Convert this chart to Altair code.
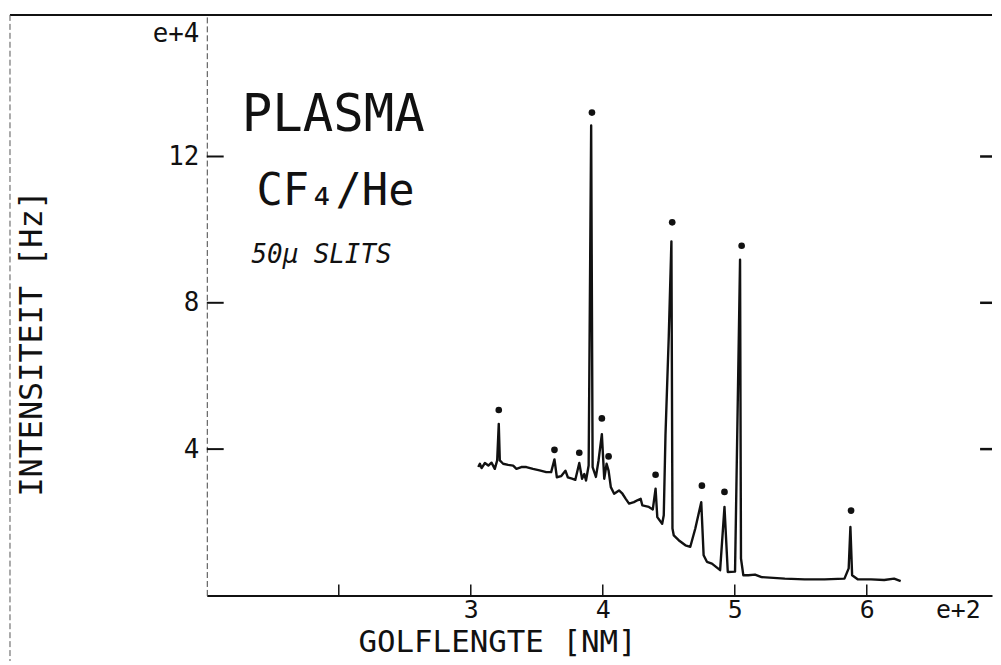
import altair as alt
import pandas as pd

# ---- data (wavelength in e+2 nm, intensity in e+4 Hz) ----
wavelength = [3.057, 3.069, 3.082, 3.107, 3.133, 3.157, 3.182, 3.200, 3.212, 3.220,
              3.245, 3.283, 3.321, 3.346, 3.383, 3.421, 3.471, 3.521, 3.572, 3.609,
              3.634, 3.652, 3.684, 3.717, 3.735, 3.767, 3.792, 3.822, 3.843, 3.860,
              3.873, 3.893, 3.912, 3.923, 3.948, 3.968, 3.993, 4.011, 4.029, 4.044,
              4.061, 4.086, 4.123, 4.149, 4.174, 4.199, 4.236, 4.262, 4.287, 4.300,
              4.349, 4.379, 4.400, 4.413, 4.450, 4.462, 4.475, 4.500, 4.520, 4.528,
              4.538, 4.575, 4.626, 4.663, 4.701, 4.746, 4.764, 4.789, 4.827, 4.889,
              4.922, 4.947, 5.002, 5.040, 5.047, 5.065, 5.102, 5.153, 5.203, 5.379,
              5.529, 5.680, 5.831, 5.863, 5.876, 5.889, 5.931, 6.032, 6.132, 6.207,
              6.257]
intensity = [3.51, 3.60, 3.48, 3.62, 3.55, 3.63, 3.46, 3.69, 4.69, 3.69,
             3.60, 3.57, 3.55, 3.46, 3.51, 3.51, 3.46, 3.42, 3.37, 3.37,
             3.72, 3.23, 3.26, 3.41, 3.23, 3.19, 3.16, 3.62, 3.19, 3.32,
             3.14, 3.55, 12.85, 3.51, 3.24, 3.69, 4.41, 3.19, 3.60, 3.41,
             2.96, 2.78, 2.87, 2.78, 2.64, 2.51, 2.55, 2.60, 2.64, 2.46,
             2.42, 2.35, 2.92, 2.14, 1.96, 2.19, 4.37, 7.09, 9.68, 1.83,
             1.64, 1.51, 1.37, 1.33, 1.83, 2.55, 1.10, 0.92, 0.87, 0.69,
             2.42, 0.64, 0.65, 9.18, 1.01, 0.55, 0.55, 0.57, 0.50, 0.46,
             0.44, 0.44, 0.46, 0.74, 1.87, 0.55, 0.44, 0.44, 0.42, 0.46,
             0.39]
dot_wavelength = [3.212, 3.634, 3.822, 3.918, 3.993, 4.044, 4.400, 4.526, 4.751, 4.922, 5.052, 5.881]
dot_intensity = [5.07, 3.98, 3.90, 13.20, 4.84, 3.80, 3.30, 10.20, 3.00, 2.83, 9.56, 2.32]

x_tick_values = [2, 3, 4, 5, 6]
x_label_values = [3, 4, 5, 6]
y_tick_values = [4, 8, 12]
x_exponent_label = "e+2"
y_exponent_label = "e+4"
x_exponent_at = 6.69
y_exponent_at = 15.37

annot_text = ["PLASMA", "CF\u2084/He", "50\u03bc SLITS"]
annot_x = [1.264, 1.377, 1.339]
annot_y = [12.69, 10.68, 9.08]

# ---- layout / style ----
W, H = 790, 584
XDOM = [1, 1 + W / 132.8]
YDOM = [0, H / 36.8]
FONT = "DejaVu Sans Mono"
INK = "#111111"

xscale = alt.Scale(domain=XDOM, nice=False, zero=False)
yscale = alt.Scale(domain=YDOM, nice=False, zero=False)

spec_df = pd.DataFrame({"x": wavelength, "y": intensity})
dot_df = pd.DataFrame({"x": dot_wavelength, "y": dot_intensity})
one = pd.DataFrame({"a": [0]})

x_axis = alt.Axis(
    values=x_label_values + [x_exponent_at],
    labelExpr=f"datum.value > 6.5 ? '{x_exponent_label}' : format(datum.value, 'd')",
    ticks=False, tickSize=0, grid=False,
    domainColor=INK, domainWidth=2,
    labelFont=FONT, labelFontSize=25, labelColor=INK, labelPadding=2,
    labelFlush=False, labelOverlap=False,
    title="GOLFLENGTE [NM]", titleFont=FONT, titleFontSize=31, titleFontWeight="normal",
    titleColor=INK, titleX=292, titleY=56, titleAlign="center", titleBaseline="alphabetic",
)
y_axis = alt.Axis(
    values=y_tick_values + [y_exponent_at],
    labelExpr=f"datum.value > 15 ? '{y_exponent_label}' : format(datum.value, 'd')",
    ticks=False, tickSize=0, grid=False,
    domainColor="#444444", domainWidth=1, domainDash=[6, 3],
    labelFont=FONT, labelFontSize=26, labelColor=INK, labelPadding=8,
    labelFlush=False, labelOverlap=False,
    title="INTENSITEIT [Hz]", titleFont=FONT, titleFontSize=32, titleFontWeight="normal",
    titleColor=INK, titleAngle=270, titleX=-166, titleY=330, titleAlign="center",
    titleBaseline="alphabetic",
)


def X():
    return alt.X("x:Q", scale=xscale, axis=x_axis)


def Y():
    return alt.Y("y:Q", scale=yscale, axis=y_axis)


line = alt.Chart(spec_df).mark_line(color=INK, strokeWidth=2.4, strokeJoin="round").encode(
    x=X(), y=Y(), order=alt.Order("x:Q"),
)

dots = alt.Chart(dot_df).mark_circle(size=45, color=INK, opacity=1).encode(x=X(), y=Y())

xt = alt.Chart(pd.DataFrame({"x": x_tick_values})).mark_rule(color=INK, strokeWidth=1.5).encode(
    x=X(), y=alt.value(H), y2=alt.value(H - 11),
)
yt_left = alt.Chart(pd.DataFrame({"y": y_tick_values})).mark_rule(color=INK, strokeWidth=2).encode(
    y=Y(), x=alt.value(0), x2=alt.value(17),
)
yt_right = alt.Chart(pd.DataFrame({"y": y_tick_values})).mark_rule(color=INK, strokeWidth=2.5).encode(
    y=Y(), x=alt.value(W - 12), x2=alt.value(W),
)

frame_top = alt.Chart(one).mark_rule(color=INK, strokeWidth=2).encode(
    x=alt.value(-198), x2=alt.value(W), y=alt.value(0),
)
frame_left = alt.Chart(one).mark_rule(color="#555555", strokeWidth=1, strokeDash=[6, 3]).encode(
    x=alt.value(-198), y=alt.value(0), y2=alt.value(H + 66),
)

sizes = [51, 44, 26]
styles = ["normal", "normal", "italic"]
texts = []
for t, tx, ty, fs, st in zip(annot_text, annot_x, annot_y, sizes, styles):
    texts.append(
        alt.Chart(pd.DataFrame({"x": [tx], "y": [ty], "t": [t]})).mark_text(
            align="left", baseline="alphabetic", font=FONT, fontSize=fs,
            fontStyle=st, color=INK,
        ).encode(x=X(), y=Y(), text="t:N")
    )

chart = alt.layer(line, dots, xt, yt_left, yt_right, *texts, frame_top, frame_left).properties(
    width=W, height=H,
    autosize=alt.AutoSizeParams(type="none"),
    padding={"left": 200, "top": 5, "right": 1, "bottom": 66},
    background="white",
).configure_view(stroke=None)

chart.save("out.html", embed_options={"renderer": "svg", "actions": False})
